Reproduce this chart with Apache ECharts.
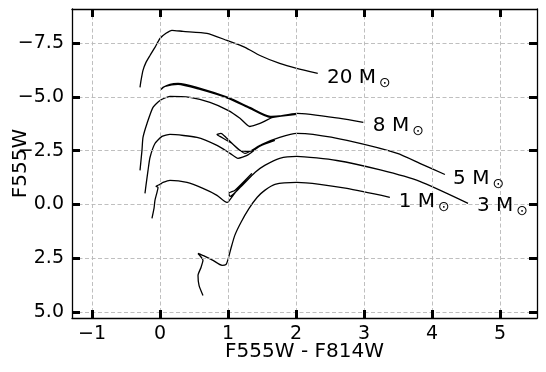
<!DOCTYPE html>
<html><head><meta charset="utf-8">
<script src="https://cdn.jsdelivr.net/npm/echarts@6/dist/echarts.min.js"></script>
<style>html,body{margin:0;padding:0;background:#fff}#c{width:546px;height:372px}</style>
</head><body><div id="c"></div>
<script>
const xTicks = [-1, 0, 1, 2, 3, 4, 5];
const yTicks = [-7.5, -5, -2.5, 0, 2.5, 5];
const xRange = [-1.294, 5.544];
const yRange = [-9.08, 5.28];

const track20 = [[-0.294,-5.44],[-0.279,-5.76],[-0.25,-6.23],[-0.206,-6.60],[-0.147,-6.92],[-0.074,-7.30],[0,-7.71],[0.088,-7.95],[0.176,-8.09],[0.338,-8.04],[0.69,-7.95],[0.985,-7.62],[1.25,-7.30],[1.47,-6.92],[1.76,-6.55],[2.01,-6.32],[2.32,-6.09]];
const track8 = [[-0.294,-1.58],[-0.265,-2.51],[-0.25,-3.11],[-0.191,-3.76],[-0.103,-4.51],[0,-4.83],[0.147,-5.02],[0.441,-4.97],[0.735,-4.74],[1.0,-4.37],[1.176,-4.0],[1.32,-3.62],[1.47,-3.76],[1.66,-4.04],[2.01,-4.18],[1.62,-4.09],[1.32,-4.51],[1.0,-4.97],[0.544,-5.44],[0.265,-5.62],[0.147,-5.58],[0.044,-5.44],[0.015,-5.34],[0.074,-5.48],[0.265,-5.58],[0.588,-5.34],[1.0,-4.93],[1.32,-4.46],[1.62,-4.04],[2.01,-4.23],[2.65,-4.0],[2.99,-3.81]];
const track5 = [[-0.221,-0.51],[-0.206,-0.88],[-0.176,-1.58],[-0.147,-2.18],[-0.074,-2.83],[0.029,-3.16],[0.147,-3.25],[0.544,-3.11],[0.838,-2.74],[1.03,-2.37],[1.147,-2.14],[1.28,-2.28],[1.47,-2.70],[1.69,-2.97],[1.47,-2.74],[1.25,-2.37],[1.06,-2.83],[0.88,-3.16],[0.838,-3.25],[0.897,-3.30],[0.97,-3.11],[1.176,-2.51],[1.32,-2.46],[1.5,-2.79],[1.76,-3.11],[2.01,-3.30],[2.25,-3.25],[2.75,-2.97],[3.49,-2.37],[3.82,-1.91],[4.19,-1.39]];
const track3 = [[-0.118,0.65],[-0.088,0.19],[-0.074,-0.19],[-0.044,-0.56],[-0.029,-0.79],[-0.059,-0.84],[0,-0.93],[0.044,-1.02],[0.147,-1.12],[0.397,-1.02],[0.632,-0.74],[0.838,-0.42],[0.985,-0.09],[1.01,-0.14],[1.176,-0.84],[1.35,-1.44],[1.10,-0.65],[1.01,-0.51],[1.03,-0.37],[1.18,-0.79],[1.40,-1.49],[1.54,-1.81],[1.76,-2.14],[2.01,-2.23],[2.60,-2.04],[3.24,-1.60],[3.82,-1.07],[4.53,-0.05]];
const track1 = [[0.632,4.23],[0.574,3.76],[0.559,3.30],[0.603,2.93],[0.632,2.60],[0.559,2.28],[0.662,2.42],[0.779,2.60],[0.912,2.83],[0.971,2.79],[1.0,2.56],[1.044,2.04],[1.10,1.44],[1.19,0.84],[1.31,0.19],[1.43,-0.33],[1.54,-0.65],[1.69,-0.93],[2.01,-1.02],[2.35,-0.93],[2.75,-0.74],[3.38,-0.33]];

const massLabels = ['20', '8', '5', '1', '3'];
const labelPos = [[2.456,-5.86],[3.13,-3.65],[4.31,-1.18],[3.51,-0.12],[4.66,0.05]];

const FONT = 'DejaVu Sans';
const minus = v => String(v).replace('-', '\u2212');
const fmtY = v => minus(Number(v).toFixed(1));
const fmtX = v => minus(Math.round(v));
const tickStyle = {show: true, inside: true, length: 8, lineStyle: {width: 3, color: '#000', opacity: 1}};

function axisCommon(extra) {
  return Object.assign({
    type: 'value',
    z: 10,
    nameMoveOverlap: false,
    axisLine: {show: true, onZero: false, lineStyle: {color: '#000', width: 1.3}},
    splitLine: {show: false},
  }, extra);
}

const chart = echarts.init(document.getElementById('c'), null, {renderer: 'canvas'});
const trackSeries = [track20, track8, track5, track3, track1].map((d, i) => ({
  type: 'line', data: d, showSymbol: false, smooth: 0.2,
  lineStyle: {color: '#000', width: 1.3}, z: 3, animation: false, silent: true
}));

chart.setOption({
  animation: false,
  grid: {left: 72, right: 9, top: 9, bottom: 54, containLabel: false, outerBoundsMode: 'none'},
  xAxis: [
    axisCommon({min: xRange[0], max: xRange[1], position: 'bottom',
      name: 'F555W - F814W', nameLocation: 'middle', nameGap: 24,
      nameTextStyle: {fontFamily: FONT, fontSize: 20, color: '#000'},
      axisTick: Object.assign({customValues: xTicks}, tickStyle),
      axisLabel: {show: true, margin: 7, fontFamily: FONT, fontSize: 19, color: '#000', customValues: xTicks, formatter: fmtX}}),
    axisCommon({min: xRange[0], max: xRange[1], position: 'top',
      axisTick: Object.assign({customValues: xTicks}, tickStyle),
      axisLabel: {show: false}})
  ],
  yAxis: [
    axisCommon({min: yRange[0], max: yRange[1], inverse: true, position: 'left',
      name: 'F555W', nameLocation: 'middle', nameGap: 41, nameRotate: 90,
      nameTextStyle: {fontFamily: FONT, fontSize: 20, color: '#000'},
      axisTick: Object.assign({customValues: yTicks}, tickStyle),
      axisLabel: {show: true, margin: 8, fontFamily: FONT, fontSize: 19, color: '#000', customValues: yTicks, formatter: fmtY}}),
    axisCommon({min: yRange[0], max: yRange[1], inverse: true, position: 'right',
      axisTick: Object.assign({customValues: yTicks}, tickStyle),
      axisLabel: {show: false}})
  ],
  series: [
    {type: 'line', data: [], z: 1, silent: true,
      markLine: {silent: true, symbol: ['none', 'none'], animation: false, label: {show: false},
        lineStyle: {type: [4, 2.5], color: '#b8b8b8', width: 0.9},
        emphasis: {disabled: true},
        data: xTicks.map(v => ({xAxis: v})).concat(yTicks.map(v => ({yAxis: v})))}},
    ...trackSeries,
    {type: 'scatter', symbolSize: 0, z: 5, silent: true,
      data: labelPos.map((p, i) => ({value: p, name: massLabels[i]})),
      label: {show: true, position: 'right', distance: 0, color: '#000', textBorderWidth: 0, opacity: 1,
        formatter: p => '{a|' + p.name + ' M}{b|\u2299}',
        rich: {
          a: {fontFamily: FONT, fontSize: 20, color: '#000', lineHeight: 22},
          b: {fontFamily: FONT, fontSize: 14, color: '#000', padding: [11, 0, 0, 3]}
        }}}
  ]
});
</script></body></html>
